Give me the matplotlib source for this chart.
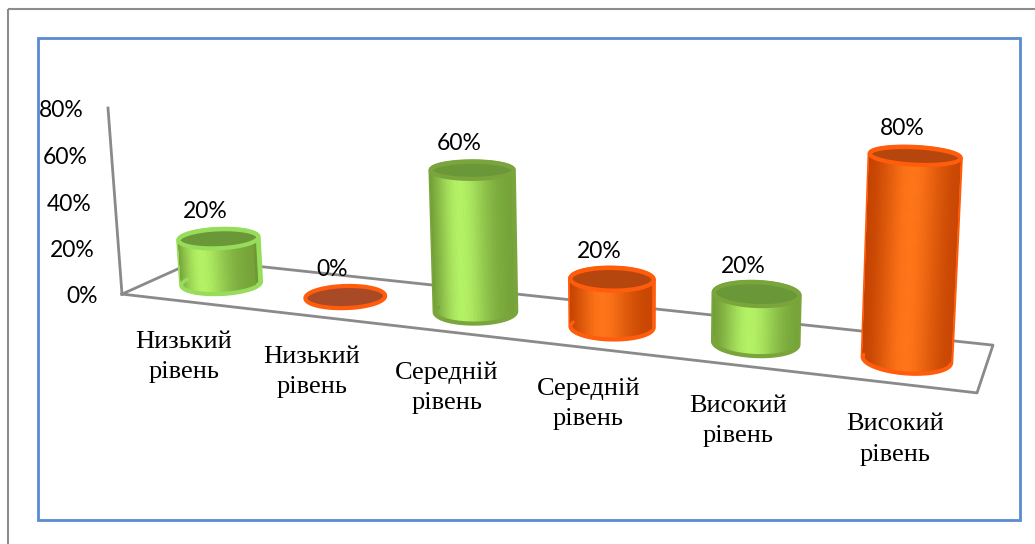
import numpy as np
import matplotlib
matplotlib.use("Agg")
import matplotlib.pyplot as plt
from matplotlib.patches import Polygon, Rectangle
from matplotlib.colors import to_rgb

# ---- data ----
categories = ["Низький\nрівень", "Низький\nрівень", "Середній\nрівень",
              "Середній\nрівень", "Високий\nрівень", "Високий\nрівень"]
values = [20, 0, 60, 20, 20, 80]
y_ticks = [0, 20, 40, 60, 80]

# ---- styles ----
GREEN = dict(dark="#6d9833", light="#b4f266", top="#6a9838", rim="#7aa53c")
ORANGE = dict(dark="#c04000", light="#ff7519", top="#b5460e", rim="#ff5c0c")
bar_styles = [GREEN, ORANGE, GREEN, ORANGE, GREEN, ORANGE]
rim_override = {0: "#98dc5c"}

DEPTH = 1.0      # floor depth in category units
RADIUS = 0.28    # cylinder radius in category units
ZMAX = 80.0

# camera calibration: corners of the plot box (world -> pixel)
box_world = [(0, 0, 0), (0, DEPTH, 0), (6, DEPTH, 0), (6, 0, 0),
             (0, 0, ZMAX), (6, 0, ZMAX)]
box_pixels = [(122, 294), (198, 260), (993, 345), (977, 393),
              (108, 108), (988, 178)]


def fit_camera(world, image):
    A, b = [], []
    for (X, Y, Z), (u, v) in zip(world, image):
        A.append([X, Y, Z, 1, 0, 0, 0, 0, -u * X, -u * Y, -u * Z])
        b.append(u)
        A.append([0, 0, 0, 0, X, Y, Z, 1, -v * X, -v * Y, -v * Z])
        b.append(v)
    p = np.linalg.lstsq(np.array(A, float), np.array(b, float), rcond=None)[0]
    return np.append(p, 1.0).reshape(3, 4)


P = fit_camera(box_world, box_pixels)


def proj(X, Y, Z):
    X, Y, Z = np.broadcast_arrays(np.asarray(X, float), np.asarray(Y, float),
                                  np.asarray(Z, float))
    h = P @ np.vstack([X.ravel(), Y.ravel(), Z.ravel(), np.ones(X.size)])
    return h[0] / h[2], h[1] / h[2]


def convex_hull(pts):
    pts = sorted(map(tuple, pts))

    def cross(o, a, b):
        return (a[0] - o[0]) * (b[1] - o[1]) - (a[1] - o[1]) * (b[0] - o[0])

    lower, upper = [], []
    for p in pts:
        while len(lower) >= 2 and cross(lower[-2], lower[-1], p) <= 0:
            lower.pop()
        lower.append(p)
    for p in reversed(pts):
        while len(upper) >= 2 and cross(upper[-2], upper[-1], p) <= 0:
            upper.pop()
        upper.append(p)
    return np.array(lower[:-1] + upper[:-1])


def mix(c1, c2, f):
    a, b = np.array(to_rgb(c1)), np.array(to_rgb(c2))
    return tuple(a + (b - a) * f)


fig = plt.figure(figsize=(10.35, 5.44), dpi=100)
ax = fig.add_axes([0, 0, 1, 1])
ax.set_xlim(0, 1035)
ax.set_ylim(544, 0)
ax.axis("off")

# frames
ax.add_patch(Rectangle((8, 9), 1100, 600, fill=False, ec="#8c8c8c", lw=1.5))
ax.add_patch(Rectangle((38, 38), 982, 482, fill=False, ec="#5b8bd0", lw=2))

# floor and vertical axis
fx, fy = proj([0, 0, 6, 6, 0], [0, DEPTH, DEPTH, 0, 0], [0, 0, 0, 0, 0])
ax.plot(fx, fy, color="#8a8a8a", lw=2, zorder=1)
axx, axy = proj([0, 0], [0, 0], [0, ZMAX])
ax.plot(axx, axy, color="#8a8a8a", lw=2, zorder=1)

for t in y_ticks:
    x, y = proj(0, 0, t)
    ax.text(x[0] - 24, y[0] + 2, f"{t}%", ha="right", va="center",
            fontsize=16.5, family="Lato", color="black")

# cylinders
ang = np.linspace(0, 2 * np.pi, 145)
front_ang = np.linspace(np.pi, 2 * np.pi, 73)
for i, (v, st) in enumerate(zip(values, bar_styles)):
    cx, cy = i + 0.5, DEPTH / 2
    rim = rim_override.get(i, st["rim"])
    tx, ty = proj(cx + RADIUS * np.cos(ang), cy + RADIUS * np.sin(ang), v)
    z0 = 2 + i
    if v > 0:
        fxs = cx + RADIUS * np.cos(front_ang)
        fys = cy + RADIUS * np.sin(front_ang)
        bx, by = proj(fxs, fys, 0)
        ux, uy = proj(fxs, fys, v)
        ab, bb = proj(cx + RADIUS * np.cos(ang), cy + RADIUS * np.sin(ang), 0)
        pts = np.vstack([np.column_stack([ab, bb]), np.column_stack([tx, ty])])
        ax.add_patch(Polygon(convex_hull(pts), closed=True, fc=st["dark"],
                             ec=rim, lw=3.5, joinstyle="round", zorder=z0))
        # shaded front strips
        for k in range(len(front_ang) - 1):
            am = 0.5 * (front_ang[k] + front_ang[k + 1])
            xn = (np.cos(am) + 1) / 2
            f = np.exp(-((xn - 0.55) / 0.32) ** 2)
            col = mix(st["dark"], st["light"], f)
            quad = [(bx[k], by[k]), (bx[k + 1], by[k + 1]),
                    (ux[k + 1], uy[k + 1]), (ux[k], uy[k])]
            ax.add_patch(Polygon(quad, closed=True, fc=col, ec=col, lw=0.6,
                                 zorder=z0 + 0.1))
        # bottom front outline
        ax.plot(bx, by, color=rim, lw=2.5, zorder=z0 + 0.2,
                solid_capstyle="round")
    top_fc = st["top"] if v > 0 else "#a84a26"
    ax.add_patch(Polygon(np.column_stack([tx, ty]), closed=True, fc=top_fc,
                         ec=rim, lw=3, zorder=z0 + 0.3))
    lx, ly = proj(cx, cy, v)
    ax.text(lx[0] - 13, ly[0] - 27, f"{v}%", ha="center", va="center",
            fontsize=16.5, family="Lato", color="black", zorder=20)

# category labels
for i, lab in enumerate(categories):
    x, y = proj(i + 0.5, 0, 0)
    ax.text(x[0], y[0] + 56, lab, ha="center", va="center", fontsize=19,
            family="Liberation Serif", linespacing=1.5, color="black")

fig.savefig("out.png", dpi=100)
